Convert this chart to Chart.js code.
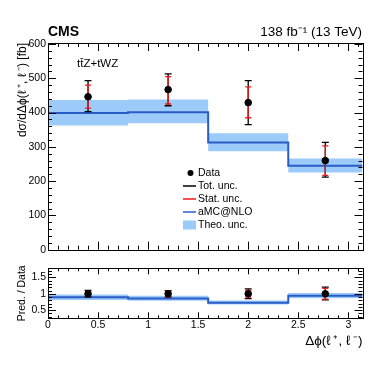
<!DOCTYPE html>
<html><head><meta charset="utf-8">
<script src="https://cdn.jsdelivr.net/npm/chart.js@4.4.1/dist/chart.umd.min.js"></script>
<style>
html,body{margin:0;padding:0;background:#fff;width:374px;height:367px;overflow:hidden}
#c1{position:absolute;left:0;top:0}
#c2{position:absolute;left:0;top:258px}
</style></head><body>
<canvas id="c1" width="374" height="258"></canvas>
<canvas id="c2" width="374" height="109"></canvas>
<script>
// ---- data ----
const binEdges = [0, 0.8, 1.6, 2.4, Math.PI];
const dataX = [0.4, 1.2, 2.0, 2.77];
const dataVal = [446, 467, 429, 260];
const totUp = [493, 513, 493, 313];
const totDn = [403, 420, 365, 212];
const statUp = [480, 505, 475, 303];
const statDn = [413, 425, 385, 217];
const predVal = [399, 401, 313, 245];
const theoUp = [437, 438, 340, 266];
const theoDn = [362, 369, 287, 225];
const mainYTicks = [0, 100, 200, 300, 400, 500, 600];
const ratioYTicks = [0.5, 1, 1.5];
const xTicks = [0, 0.5, 1, 1.5, 2, 2.5, 3];
const legendLabels = ['Data', 'Tot. unc.', 'Stat. unc.', 'aMC@NLO', 'Theo. unc.'];

const FONT = '"Liberation Sans", Arial, Helvetica, sans-serif';
Chart.defaults.font.family = FONT;
Chart.defaults.color = '#000';
const BAND = '#9ccbfa';
const LINE = '#2a5cc6';
const RED = '#f01818';

const ratio = (arr) => arr.map((v, i) => v / dataVal[i]);
const stepPts = (arr) => binEdges.map((e, i) => ({x: e, y: arr[Math.min(i, arr.length - 1)]}));
const ptPts = (arr) => dataX.map((x, i) => ({x, y: arr[i]}));

function keepTicks(list) {
  return (s) => { s.ticks = list.map(v => ({value: v})); };
}

function drawTicks(chart, o) {
  const {ctx, chartArea: a} = chart;
  const xs = chart.scales.x, ys = chart.scales.y;
  ctx.save();
  ctx.strokeStyle = '#000';
  ctx.lineWidth = 1;
  ctx.beginPath();
  for (let k = Math.ceil(ys.min / o.yMinor - 1e-9); k * o.yMinor <= ys.max + 1e-9; k++) {
    const v = k * o.yMinor;
    const maj = Math.abs(v / o.yMajor - Math.round(v / o.yMajor)) < 1e-6;
    const L = maj ? o.yL : o.yl;
    const py = Math.round(ys.getPixelForValue(v)) + 0.5;
    ctx.moveTo(a.left, py); ctx.lineTo(a.left + L, py);
    ctx.moveTo(a.right, py); ctx.lineTo(a.right - L, py);
  }
  for (let k = 0; k * o.xMinor <= xs.max + 1e-9; k++) {
    const v = k * o.xMinor;
    const maj = Math.abs(v / o.xMajor - Math.round(v / o.xMajor)) < 1e-6;
    const L = maj ? o.xL : o.xl;
    const px = Math.round(xs.getPixelForValue(v)) + 0.5;
    ctx.moveTo(px, a.bottom); ctx.lineTo(px, a.bottom - L);
    ctx.moveTo(px, a.top); ctx.lineTo(px, a.top + L);
  }
  ctx.stroke();
  ctx.strokeRect(Math.round(a.left) + 0.5, Math.round(a.top) + 0.5,
                 Math.round(a.right - a.left), Math.round(a.bottom - a.top));
  ctx.restore();
}

function drawErrors(chart, up1, dn1, up2, dn2) {
  const {ctx} = chart;
  const xs = chart.scales.x, ys = chart.scales.y;
  ctx.save();
  ctx.lineWidth = 1.3;
  const bar = (x, lo, hi, col, cap) => {
    const px = xs.getPixelForValue(x);
    const plo = ys.getPixelForValue(lo), phi = ys.getPixelForValue(hi);
    ctx.strokeStyle = col;
    ctx.beginPath();
    ctx.moveTo(px, plo); ctx.lineTo(px, phi);
    ctx.moveTo(px - cap, plo); ctx.lineTo(px + cap, plo);
    ctx.moveTo(px - cap, phi); ctx.lineTo(px + cap, phi);
    ctx.stroke();
  };
  dataX.forEach((x, i) => bar(x, dn1[i], up1[i], '#000', 3.5));
  dataX.forEach((x, i) => bar(x, dn2[i], up2[i], RED, 3));
  ctx.restore();
}

const errPlugin = (getArr) => ({
  id: 'errs',
  afterDatasetDraw(chart, args) {
    if (args.index === 1) { const r = getArr(); drawErrors(chart, r[0], r[1], r[2], r[3]); }
  }
});

function datasets(vals, pred, up, dn) {
  return [
    {type: 'scatter', data: ptPts(vals), backgroundColor: '#000', borderColor: '#000', pointRadius: 3.3, pointHoverRadius: 3.3, showLine: false},
    {type: 'line', data: stepPts(pred), stepped: true, borderColor: LINE, borderWidth: 2, pointRadius: 0, fill: false},
    {type: 'line', data: stepPts(up), stepped: true, borderWidth: 0, borderColor: 'rgba(0,0,0,0)', backgroundColor: BAND, pointRadius: 0, fill: '+1'},
    {type: 'line', data: stepPts(dn), stepped: true, borderWidth: 0, borderColor: 'rgba(0,0,0,0)', pointRadius: 0, fill: false}
  ];
}

const mainDeco = {
  id: 'mainDeco',
  afterDraw(chart) {
    drawTicks(chart, {yMinor: 20, yMajor: 100, yL: 8, yl: 4, xMinor: 0.1, xMajor: 0.5, xL: 8, xl: 4});
    const {ctx} = chart;
    ctx.save();
    ctx.fillStyle = '#000';
    ctx.textBaseline = 'alphabetic';
    ctx.font = 'bold 14px ' + FONT;
    ctx.textAlign = 'left';
    ctx.fillText('CMS', 48, 36);
    ctx.font = '13.5px ' + FONT;
    ctx.textAlign = 'right';
    ctx.fillText('138 fb\u207B\u00B9 (13 TeV)', 362, 36);
    ctx.textAlign = 'left';
    ctx.font = '11.5px ' + FONT;
    ctx.fillText('tt\u0304Z+tWZ', 77, 67);
    // legend
    const lx0 = 183, lx1 = 196, tx = 198;
    const rows = [173, 186, 199, 212, 225];
    ctx.font = '10.5px ' + FONT;
    ctx.textBaseline = 'middle';
    legendLabels.forEach((t, i) => ctx.fillText(t, tx, rows[i] + 0.5));
    ctx.beginPath(); ctx.arc((lx0 + lx1) / 2 + 1, rows[0], 3, 0, Math.PI * 2); ctx.fill();
    ctx.lineWidth = 1.5;
    [['#000', 1], [RED, 2], [LINE, 3]].forEach(([c, i]) => {
      ctx.strokeStyle = c; ctx.beginPath(); ctx.moveTo(lx0, rows[i]); ctx.lineTo(lx1, rows[i]); ctx.stroke();
    });
    ctx.fillStyle = BAND; ctx.fillRect(lx0, rows[4] - 4.5, lx1 - lx0, 9);
    ctx.restore();
  }
};

new Chart(document.getElementById('c1'), {
  data: {datasets: datasets(dataVal, predVal, theoUp, theoDn)},
  options: {
    responsive: false, animation: false, events: [],
    layout: {padding: {top: 43, right: 11.5, bottom: 6.3, left: 0}},
    plugins: {legend: {display: false}, tooltip: {enabled: false}},
    scales: {
      x: {type: 'linear', min: 0, max: Math.PI, display: false},
      y: {type: 'linear', min: 0, max: 603,
          afterBuildTicks: keepTicks(mainYTicks),
          afterFit: s => { s.width = 48; },
          grid: {display: false, drawTicks: false, tickLength: 0}, border: {display: false},
          ticks: {padding: 2, font: {size: 10.5}, callback: v => String(v)},
          title: {display: true, text: 'd\u03C3/d\u0394\u03D5(\u2113\u2009\u207A, \u2113\u2009\u207B) [fb]', align: 'end',
                  font: {size: 12}, padding: {top: 15, bottom: 0}}}
    }
  },
  plugins: [errPlugin(() => [totUp, totDn, statUp, statDn]), mainDeco]
});

const ratioDeco = {
  id: 'ratioDeco',
  afterDraw(chart) {
    drawTicks(chart, {yMinor: 0.1, yMajor: 0.5, yL: 8, yl: 4, xMinor: 0.1, xMajor: 0.5, xL: 6, xl: 3});
  }
};

new Chart(document.getElementById('c2'), {
  data: {datasets: datasets(ratio(dataVal), ratio(predVal), ratio(theoUp), ratio(theoDn))},
  options: {
    responsive: false, animation: false, events: [],
    layout: {padding: {top: 10.3, right: 11.5, bottom: 0, left: 0}},
    plugins: {legend: {display: false}, tooltip: {enabled: false}},
    scales: {
      x: {type: 'linear', min: 0, max: Math.PI,
          afterBuildTicks: keepTicks(xTicks),
          afterFit: s => { s.height = 48.7; },
          grid: {display: false, drawTicks: false, tickLength: 0}, border: {display: false},
          ticks: {padding: 1, font: {size: 10.5}, maxRotation: 0, callback: v => String(Math.round(v * 10) / 10)},
          title: {display: true, text: '\u0394\u03D5(\u2113\u2009\u207A, \u2113\u2009\u207B)', align: 'end',
                  font: {size: 13.5}, padding: {top: 0, bottom: 18}}},
      y: {type: 'linear', min: 0.25, max: 1.78,
          afterBuildTicks: keepTicks(ratioYTicks),
          afterFit: s => { s.width = 48; },
          grid: {display: false, drawTicks: false, tickLength: 0}, border: {display: false},
          ticks: {padding: 2, font: {size: 10.5}, callback: v => String(v)},
          title: {display: true, text: 'Pred. / Data', align: 'center',
                  font: {size: 10.5}, padding: {top: 15.5, bottom: 0}}}
    }
  },
  plugins: [errPlugin(() => [ratio(totUp), ratio(totDn), ratio(statUp), ratio(statDn)]), ratioDeco]
});
</script>
</body></html>
